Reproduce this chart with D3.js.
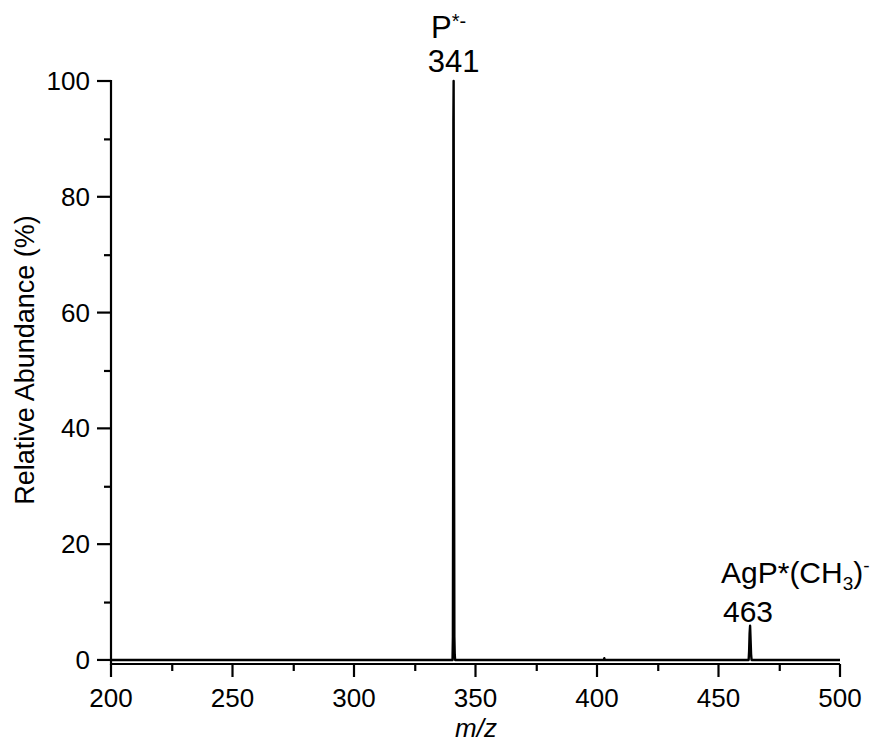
<!DOCTYPE html>
<html>
<head>
<meta charset="utf-8">
<script src="https://cdn.jsdelivr.net/npm/d3@7"></script>
<style>
  body { margin: 0; background: #fff; }
  svg text { font-family: "Liberation Sans", Arial, sans-serif; fill: #000; }
</style>
</head>
<body>
<svg id="chart" width="880" height="744"></svg>
<script>
// spectrum profile, m/z vs relative abundance
var mz =        [200, 340.55, 340.7, 340.8, 340.9, 341.0, 341.1, 341.2, 341.3, 341.45, 341.6, 402.8, 403.0, 403.2, 462.4, 462.6, 462.8, 463.0, 463.2, 463.4, 463.6, 500];
var abundance = [0,   0,      4,     30,    93,    100,   69,    30,    4,     1,      0,     0,     0.3,   0,     0,     1.5,   4.5,   5.9,   3.5,   1,     0,     0];

var xTicks = [200, 250, 300, 350, 400, 450, 500];
var xMinor = [225, 275, 325, 375, 425, 475];
var yTicks = [0, 20, 40, 60, 80, 100];
var yMinor = [10, 30, 50, 70, 90];

var svg = d3.select("#chart");
var x = d3.scaleLinear().domain([200, 500]).range([111, 840]);
var y = d3.scaleLinear().domain([-0.7, 100]).range([664, 81]);

var points = mz.map(function(d, i) { return [d, abundance[i]]; });

// x axis: minor ticks through d3.axisBottom, major ones added on top
var xAxis = svg.append("g").attr("transform", "translate(0,664)");
xAxis.call(d3.axisBottom(x).tickValues(xMinor).tickSize(7).tickFormat(""));
xAxis.selectAll(".maj").data(xTicks).enter().append("line").attr("class", "maj")
  .attr("x1", function(d) { return x(d); }).attr("x2", function(d) { return x(d); })
  .attr("y1", 0).attr("y2", 13);
xAxis.selectAll(".lab").data(xTicks).enter().append("text").attr("class", "lab")
  .attr("x", function(d) { return x(d); }).attr("y", 43)
  .attr("text-anchor", "middle").style("font-size", "26px").text(function(d) { return d; });
xAxis.select(".domain").attr("d", "M111,0H840");

var yAxis = svg.append("g").attr("transform", "translate(111,0)");
yAxis.call(d3.axisLeft(y).tickValues(yMinor).tickSize(7).tickFormat(""));
yAxis.selectAll(".maj").data(yTicks).enter().append("line").attr("class", "maj")
  .attr("y1", function(d) { return y(d); }).attr("y2", function(d) { return y(d); })
  .attr("x1", 0).attr("x2", -14);
yAxis.selectAll(".lab").data(yTicks).enter().append("text").attr("class", "lab")
  .attr("y", function(d) { return y(d) + 9; }).attr("x", -21)
  .attr("text-anchor", "end").style("font-size", "26px").text(function(d) { return d; });
yAxis.select(".domain").attr("d", "M0,80V665");

svg.selectAll(".domain, .tick line, .maj")
  .attr("stroke", "#000").attr("stroke-width", 2.2);

// spectrum
svg.append("path").datum(points)
  .attr("fill", "none").attr("stroke", "#000").attr("stroke-width", 2.4)
  .attr("stroke-linejoin", "round")
  .attr("d", d3.line().x(function(d) { return x(d[0]); }).y(function(d) { return y(d[1]); }));

// peak labels
var t1 = svg.append("text").attr("x", 431).attr("y", 38).style("font-size", "31px");
t1.append("tspan").text("P");
t1.append("tspan").attr("dy", -10).style("font-size", "20px").text("*-");
svg.append("text").attr("x", x(341)).attr("y", 72).attr("text-anchor", "middle")
  .style("font-size", "31px").text("341");

var t2 = svg.append("text").attr("x", 721).attr("y", 583).style("font-size", "30px");
t2.append("tspan").text("AgP*(CH");
t2.append("tspan").attr("dy", 7).style("font-size", "19px").text("3");
t2.append("tspan").attr("dy", -7).text(")");
t2.append("tspan").attr("dy", -11).style("font-size", "19px").text("-");
svg.append("text").attr("x", 748).attr("y", 622).attr("text-anchor", "middle")
  .style("font-size", "30px").text("463");

// axis titles
svg.append("text").attr("transform", "translate(34,360) rotate(-90)")
  .attr("text-anchor", "middle").style("font-size", "27px").text("Relative Abundance (%)");
svg.append("text").attr("x", 476).attr("y", 737).attr("text-anchor", "middle")
  .style("font-size", "26px").style("font-style", "italic").text("m/z");
</script>
</body>
</html>
